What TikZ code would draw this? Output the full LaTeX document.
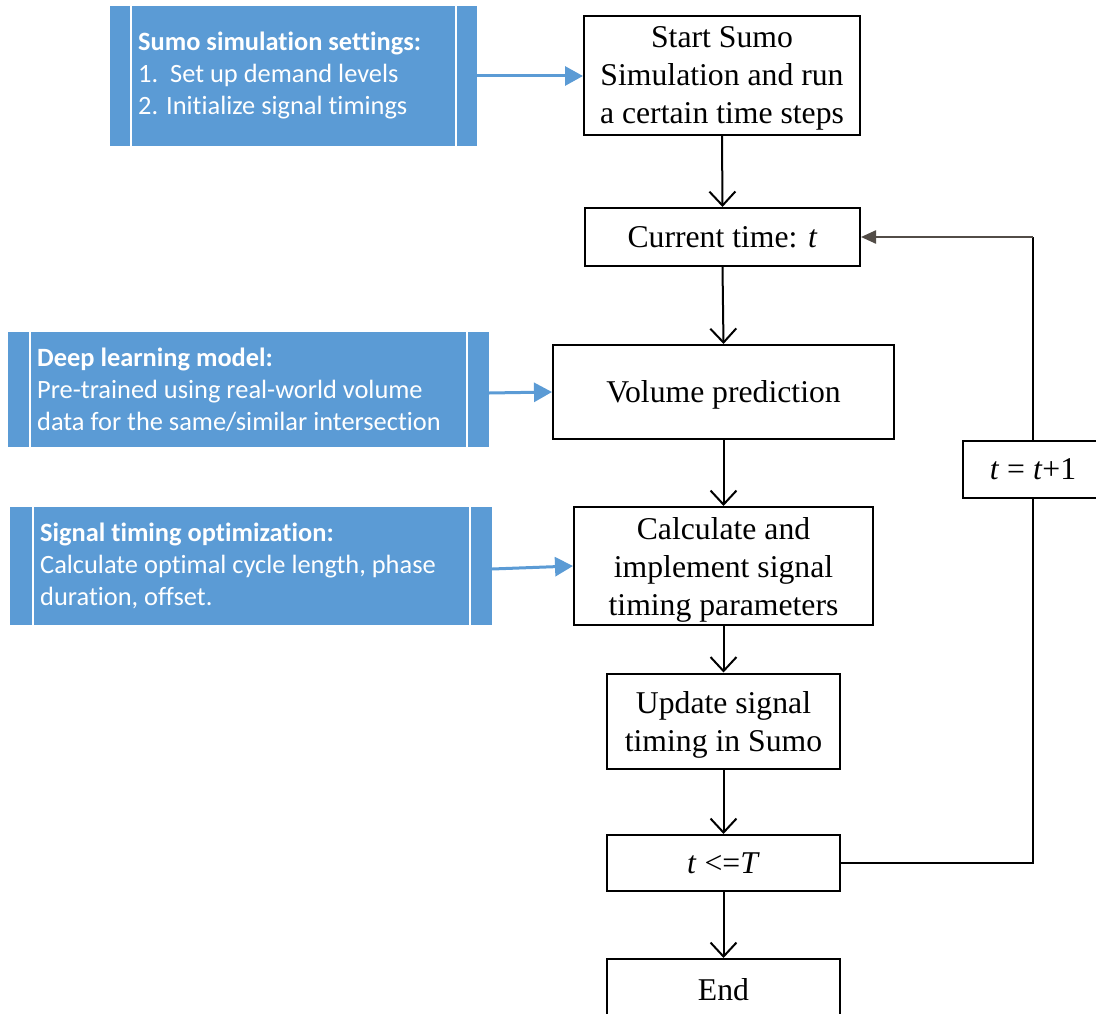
\documentclass[tikz,border=0pt]{standalone}
\usepackage{fontspec}
\setmainfont{Liberation Serif}
\newfontfamily\panelfont[Ligatures=NoCommon]{Carlito}
\usetikzlibrary{arrows.meta,calc}
\definecolor{boxblue}{HTML}{5B9BD5}
\definecolor{loopgray}{HTML}{524C47}

\begin{document}
\begin{tikzpicture}[x=1pt,y=-1pt,
  proc/.style={draw=black, line width=2pt, fill=white, inner sep=0pt,
    align=center, text depth=0pt, font=\fontsize{31.7}{38}\selectfont},
  panel/.style={fill=boxblue, draw=none, inner sep=0pt},
  paneltext/.style={anchor=west, align=left, text=white, inner sep=0pt,
    font=\panelfont\fontsize{26.4}{32}\selectfont},
  divider/.style={white, line width=2pt},
  flow/.style={line width=2pt,
    -{Straight Barb[length=14pt,width=26pt,line width=2pt]}},
  feed/.style={boxblue, line width=3pt, -{Triangle[length=18pt,width=19pt]}},
  loopline/.style={line width=2pt},
  back/.style={loopgray, line width=2.4pt, -{Triangle[length=15pt,width=13pt]}}
]
\useasboundingbox (0,0) rectangle (1096,1014);

% main flow
\node[proc, minimum width=276pt, minimum height=119pt] (start) at (722,75.5)
  {Start Sumo\\Simulation and run\\a certain time steps};
\node[proc, minimum width=275pt, minimum height=58pt] (cur) at (722.5,237)
  {Current time: \textit{t}};
\node[proc, minimum width=341pt, minimum height=94pt] (vol) at (723.5,392)
  {Volume prediction};
\node[proc, minimum width=299pt, minimum height=118pt] (calc) at (723.5,566)
  {Calculate and\\implement signal\\timing parameters};
\node[proc, minimum width=233pt, minimum height=95pt] (upd) at (723.5,721)
  {Update signal\\timing in Sumo};
\node[proc, minimum width=233pt, minimum height=56pt] (tle) at (723.5,863)
  {\textit{t} <=\textit{T}};
\node[proc, minimum width=233pt, minimum height=60pt] (fin) at (723.5,989)
  {End};
\node[proc, minimum width=140pt, minimum height=57pt] (tplus) at (1033,469.5)
  {\textit{t} = \textit{t}+1};

\draw[flow] (start.south) -- (cur.north);
\draw[flow] (cur.south) -- (vol.north);
\draw[flow] (vol.south) -- (calc.north);
\draw[flow] (calc.south) -- (upd.north);
\draw[flow] (upd.south) -- (tle.north);
\draw[flow] (tle.south) -- (fin.north);

% loop back to the time step
\coordinate (corner) at (tplus.north |- cur.east);
\draw[loopline] (tle.east) -| (tplus.south);
\draw[loopline] (tplus.north) -- (corner);
\draw[back] (corner) -- (cur.east);

% side panels
\node[panel, minimum width=367pt, minimum height=140pt] (sumo) at (293.5,76) {};
\node[panel, minimum width=481pt, minimum height=115pt] (dl) at (248.5,389.5) {};
\node[panel, minimum width=482pt, minimum height=118pt] (opt) at (251,566) {};

\draw[divider] ($(sumo.north west)+(21,0)$) -- ($(sumo.south west)+(21,0)$);
\draw[divider] ($(sumo.north east)+(-21,0)$) -- ($(sumo.south east)+(-21,0)$);
\draw[divider] ($(dl.north west)+(22,0)$) -- ($(dl.south west)+(22,0)$);
\draw[divider] ($(dl.north east)+(-22,0)$) -- ($(dl.south east)+(-22,0)$);
\draw[divider] ($(opt.north west)+(23,0)$) -- ($(opt.south west)+(23,0)$);
\draw[divider] ($(opt.north east)+(-22,0)$) -- ($(opt.south east)+(-22,0)$);

\node[paneltext] (sumotext) at (138,76)
  {\textbf{Sumo simulation settings:}\\1.\ \ Set up demand levels\\2. Initialize signal timings};
\node[paneltext] (dltext) at (37,389.5)
  {\textbf{Deep learning model:}\\Pre-trained using real-world volume\\data for the same/similar intersection};
\node[paneltext] (opttext) at (40,566)
  {\textbf{Signal timing optimization:}\\Calculate optimal cycle length, phase\\duration, offset.};

\draw[feed] (sumo.east) -- (start.west |- sumo.east);
\draw[feed] ($(dl.east)+(0,3.5)$) -- (vol.west);
\draw[feed] ($(opt.east)+(0,3)$) -- (calc.west);
\end{tikzpicture}
\end{document}
